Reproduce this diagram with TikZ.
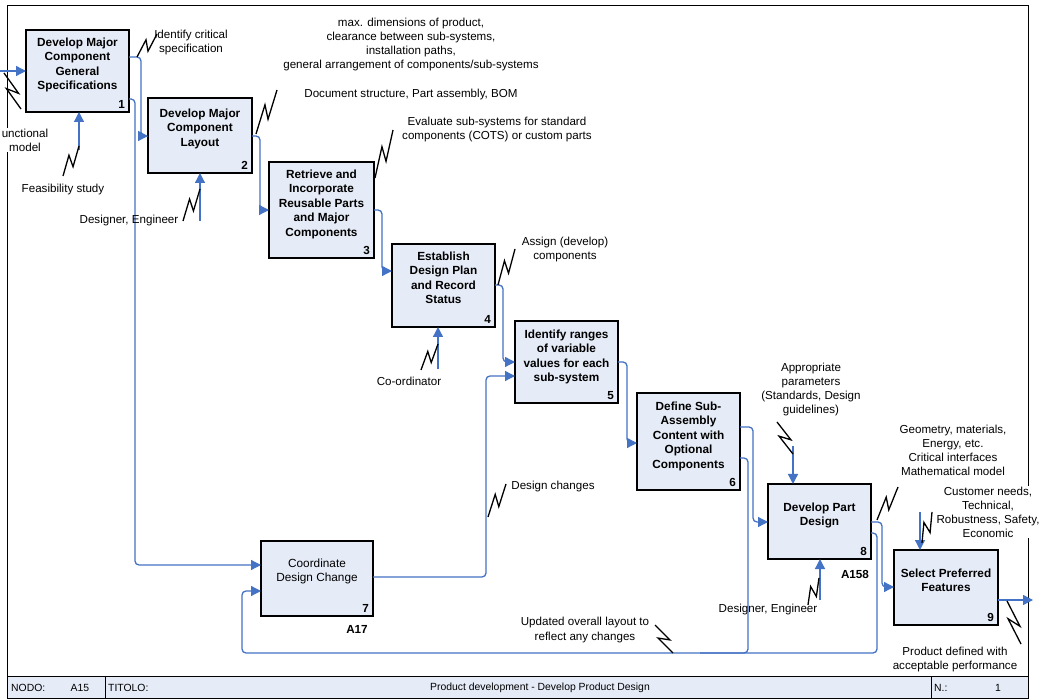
\documentclass[tikz,border=0pt]{standalone}
\usepackage{fontspec}
\setmainfont{Liberation Sans}
\usetikzlibrary{arrows.meta,calc}
\definecolor{flowblue}{RGB}{68,114,196}
\definecolor{boxfill}{RGB}{230,236,247}
\newcommand\squig[2]{\draw[squigline] (#1) -- ($(#1)!0.62!(#2)!4.5pt!90:(#2)$) -- ($(#1)!0.38!(#2)!4.5pt!-90:(#2)$) -- (#2);}
\begin{document}
\begin{tikzpicture}[x=1pt,y=-1pt,
  flow/.style={draw=flowblue,line width=1.3pt,rounded corners=4pt,-{Triangle[length=10pt,width=10pt]}},
  flowline/.style={draw=flowblue,line width=1.3pt,rounded corners=4pt},
  box/.style={draw=black,fill=boxfill,line width=1.3pt,anchor=north west,inner sep=0pt,outer sep=0pt},
  thickbox/.style={box,line width=2.2pt},
  boxtext/.style={anchor=north,align=center,inner sep=0pt,font=\fontsize{11.8}{14.4}\selectfont\bfseries},
  boxtextreg/.style={anchor=north,align=center,inner sep=0pt,font=\fontsize{11.8}{14.4}\selectfont},
  num/.style={anchor=south east,inner sep=0pt,font=\fontsize{11.7}{14}\selectfont\bfseries},
  lab/.style={align=center,inner sep=0.5pt,font=\fontsize{11.6}{14}\selectfont},
  wlab/.style={lab,fill=white},
  squigline/.style={draw=black,line width=1.3pt,line join=miter},
  foot/.style={inner sep=0pt,font=\fontsize{10.4}{12}\selectfont},
]
\useasboundingbox (0,0) rectangle (1042,700);
% frame and footer
\draw[line width=1pt] (7,6) rectangle (1028,698);
\draw[line width=1pt,fill=boxfill] (7,676) rectangle (1028,698);
\draw[line width=1pt] (105,676) -- (105,698);
\draw[line width=1pt] (931,676) -- (931,698);
\node[foot,anchor=west] (nodo) at (11,688) {NODO:};
\node[foot] (a15) at (80,688) {A15};
\node[foot,anchor=west] (tit) at (108,688) {TITOLO:};
\node[foot] (title) at (540,688) {Product development - Develop Product Design};
\node[foot,anchor=west] (nn) at (934,688) {N.:};
\node[foot] (pg) at (998,688) {1};

% boxes
\node[thickbox,minimum width=103pt,minimum height=82pt] (b1) at (26,30) {};
\node[thickbox,minimum width=104pt,minimum height=75pt] (b2) at (148,98) {};
\node[box,minimum width=105pt,minimum height=96pt] (b3) at (269,162) {};
\node[box,minimum width=103pt,minimum height=83pt] (b4) at (392,244) {};
\node[thickbox,minimum width=103pt,minimum height=82pt] (b5) at (515,321) {};
\node[box,minimum width=103pt,minimum height=97pt] (b6) at (637,393) {};
\node[box,minimum width=112pt,minimum height=75pt] (b7) at (261,541) {};
\node[box,minimum width=103pt,minimum height=75pt] (b8) at (768,484) {};
\node[thickbox,minimum width=104pt,minimum height=75pt] (b9) at (894,550) {};

\node[boxtext] (b1t) at ($(b1.north)+(0,7.7)$) {Develop Major\\Component\\General\\Specifications};
\node[boxtext] (b2t) at ($(b2.north)+(0,10.7)$) {Develop Major\\Component\\Layout};
\node[boxtext] (b3t) at ($(b3.north)+(0,7.7)$) {Retrieve and\\Incorporate\\Reusable Parts\\and Major\\Components};
\node[boxtext] (b4t) at ($(b4.north)+(0,7.7)$) {Establish\\Design Plan\\and Record\\Status};
\node[boxtext] (b5t) at ($(b5.north)+(0,8.7)$) {Identify ranges\\of variable\\values for each\\sub-system};
\node[boxtext] (b6t) at ($(b6.north)+(0,8.7)$) {Define Sub-\\Assembly\\Content with\\Optional\\Components};
\node[boxtextreg] (b7t) at ($(b7.north)+(0,17.7)$) {Coordinate\\Design Change};
\node[boxtext] (b8t) at ($(b8.north)+(0,18.7)$) {Develop Part\\Design};
\node[boxtext] (b9t) at ($(b9.north)+(0,18.7)$) {Select Preferred\\Features};

\node[num] (b1n) at ($(b1.south east)+(-4,-3)$) {1};
\node[num] (b2n) at ($(b2.south east)+(-4,-3)$) {2};
\node[num] (b3n) at ($(b3.south east)+(-4,-3)$) {3};
\node[num] (b4n) at ($(b4.south east)+(-4,-3)$) {4};
\node[num] (b5n) at ($(b5.south east)+(-4,-3)$) {5};
\node[num] (b6n) at ($(b6.south east)+(-4,-3)$) {6};
\node[num] (b7n) at ($(b7.south east)+(-4,-3)$) {7};
\node[num] (b8n) at ($(b8.south east)+(-4,-3)$) {8};
\node[num] (b9n) at ($(b9.south east)+(-4,-3)$) {9};
\node[num,anchor=center] (a17) at (357,629) {A17};
\node[num,anchor=center] (a158) at (855,574) {A158};

% connectors
\coordinate (in1) at (0,71);
\draw[flow] (in1) -- (in1 -| b1.west);
\draw[flow] ($(b1.north east)+(0,27)$) -| ($(b2.north west)+(-7,38)$) -- ($(b2.north west)+(0,38)$);
\draw[flow] ($(b1.north east)+(0,69)$) -| ($(b7.north west)+(-126,24)$) -- ($(b7.north west)+(0,24)$);
\coordinate (m1) at (79,150);
\draw[flow] (m1) -- (m1 |- b1.south);
\coordinate (m2) at (200,221);
\draw[flow] (m2) -- (m2 |- b2.south);
\draw[flow] ($(b2.north east)+(0,38)$) -| ($(b3.north west)+(-9,48)$) -- ($(b3.north west)+(0,48)$);
\draw[flow] ($(b3.north east)+(0,48)$) -| ($(b4.north west)+(-10,27)$) -- ($(b4.north west)+(0,27)$);
\draw[flow] ($(b4.north east)+(0,41)$) -| ($(b5.north west)+(-12,41)$) -- ($(b5.north west)+(0,41)$);
\coordinate (m4) at (438,369);
\draw[flow] (m4) -- (m4 |- b4.south);
\draw[flow] ($(b7.north east)+(0,36)$) -| ($(b5.north west)+(-29,55)$) -- ($(b5.north west)+(0,55)$);
\draw[flow] ($(b5.north east)+(0,41)$) -| ($(b6.north west)+(-10,50)$) -- ($(b6.north west)+(0,50)$);
\draw[flow] ($(b6.north east)+(0,34)$) -| ($(b8.north west)+(-15,38)$) -- ($(b8.north west)+(0,38)$);
\coordinate (j1) at (700,653);
\draw[flowline] ($(b6.north east)+(0,65)$) -| ($(b6.north east)+(8,260)$) -- (j1);
\draw[flow] ($(b8.north east)+(0,38)$) -| ($(b9.north west)+(-12,37)$) -- ($(b9.north west)+(0,37)$);
\draw[flow] ($(b8.north east)+(0,49)$) -| ($(b8.north east)+(6,169)$) -| ($(b7.north west)+(-19,50)$) -- ($(b7.north west)+(0,50)$);
\coordinate (k8) at (793,446);
\draw[flow] (k8) -- (k8 |- b8.north);
\coordinate (m8) at (820,600);
\draw[flow] (m8) -- (m8 |- b8.south);
\coordinate (k9) at (920,512);
\draw[flow] (k9) -- (k9 |- b9.north);
\coordinate (out9) at (1033,600);
\draw[flow] ($(b9.north east)+(0,50)$) -- (out9);

% labels
\node[wlab] (l1) at (25,140) {unctional\\model};
\node[lab] (l2) at (63,190) {Feasibility study};
\node[lab] (l3) at (191,43) {Identify critical\\specification};
\node[lab] (l4) at (411,45) {max. dimensions of product,\\clearance between sub-systems,\\installation paths,\\general arrangement of components/sub-systems};
\node[lab] (l5) at (411,95) {Document structure, Part assembly, BOM};
\node[lab] (l6) at (497,130) {Evaluate sub-systems for standard\\components (COTS) or custom parts};
\node[lab] (l7) at (565,250) {Assign (develop)\\components};
\node[lab] (l8) at (409,381) {Co-ordinator};
\node[lab] (l9) at (553,487) {Design changes};
\node[lab] (l10) at (585,630) {Updated overall layout to\\reflect any changes};
\node[lab] (l11) at (811,390) {Appropriate\\parameters\\(Standards, Design\\guidelines)};
\node[lab] (l12) at (953,450) {Geometry, materials,\\Energy, etc.\\Critical interfaces\\Mathematical model};
\node[wlab] (l13) at (988,512) {Customer needs,\\Technical,\\Robustness, Safety,\\Economic};
\node[lab] (l14) at (129,221) {Designer, Engineer};
\node[lab] (l15) at (768,609) {Designer, Engineer};
\node[lab] (l16) at (955,659) {Product defined with\\acceptable performance};

% squiggles
\coordinate (s1a) at (4,73);     \coordinate (s1b) at (21,109);
\coordinate (s2a) at (79,146);   \coordinate (s2b) at (63,176);
\coordinate (s3a) at (137,57);   \coordinate (s3b) at (157,34);
\coordinate (s4a) at (200,189);  \coordinate (s4b) at (183,221);
\coordinate (s5a) at (256,134);  \coordinate (s5b) at (277,90);
\coordinate (s6a) at (375,178);  \coordinate (s6b) at (393,130);
\coordinate (s7a) at (498,285);  \coordinate (s7b) at (515,249);
\coordinate (s8a) at (438,344);  \coordinate (s8b) at (421,370);
\coordinate (s9a) at (488,517);  \coordinate (s9b) at (506,484);
\coordinate (s10a) at (673,653); \coordinate (s10b) at (655,625);
\coordinate (s11a) at (793,454); \coordinate (s11b) at (777,422);
\coordinate (s12a) at (877,520); \coordinate (s12b) at (898,487);
\coordinate (s13a) at (819,578); \coordinate (s13b) at (808,605);
\coordinate (s14a) at (922,543); \coordinate (s14b) at (932,512);
\coordinate (s15a) at (1007,601); \coordinate (s15b) at (1021,644);
\squig{s1a}{s1b}
\squig{s2a}{s2b}
\squig{s3a}{s3b}
\squig{s4a}{s4b}
\squig{s5a}{s5b}
\squig{s6a}{s6b}
\squig{s7a}{s7b}
\squig{s8a}{s8b}
\squig{s9a}{s9b}
\squig{s10a}{s10b}
\squig{s11a}{s11b}
\squig{s12a}{s12b}
\squig{s13a}{s13b}
\squig{s14a}{s14b}
\squig{s15a}{s15b}
\end{tikzpicture}
\end{document}
